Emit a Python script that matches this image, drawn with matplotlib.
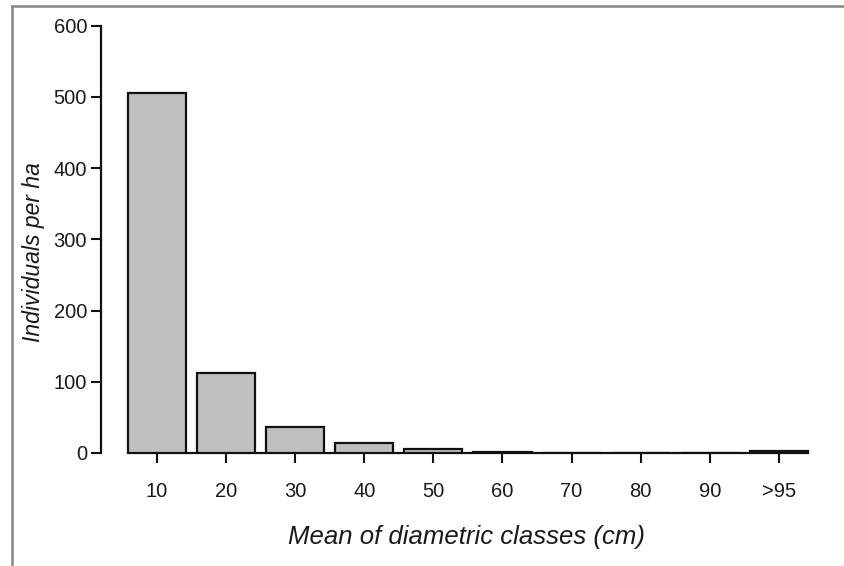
import matplotlib
matplotlib.use("Agg")
import matplotlib.pyplot as plt
from matplotlib.lines import Line2D

# Diametric class distribution (individuals per hectare)
classes = ["10", "20", "30", "40", "50", "60", "70", "80", "90", ">95"]
individuals = [505, 112, 36, 14, 5, 2, 0, 0, 0, 2.5]
y_ticks = [0, 100, 200, 300, 400, 500, 600]

plt.rcParams["font.family"] = ["Liberation Sans", "DejaVu Sans"]

fig = plt.figure(figsize=(8.44, 5.66), dpi=100)
W, H = 844, 566

left_px, right_px = 101, 810
top_px, bottom_px = 25.7, 453
ax = fig.add_axes([left_px / W, (H - bottom_px) / H,
                   (right_px - left_px) / W, (bottom_px - top_px) / H])

x = list(range(len(classes)))
bar_w = 0.84
ax.bar(x, individuals, width=bar_w, color="#c0c0c0", edgecolor="#111111",
       linewidth=1.6, zorder=3)

ax.set_xlim(-0.81, 9.45)
ax.set_ylim(0, 600)
ax.set_yticks(y_ticks)
ax.set_xticks(x)
ax.set_xticklabels(classes)

for s in ("top", "right"):
    ax.spines[s].set_visible(False)
ax.spines["left"].set_bounds(0, 600)
ax.spines["bottom"].set_bounds(-bar_w / 2, len(classes) - 1 + bar_w / 2)
for s in ("left", "bottom"):
    ax.spines[s].set_linewidth(1.6)
    ax.spines[s].set_color("#111111")

ax.tick_params(axis="both", direction="out", length=7, width=1.5,
               color="#111111", labelsize=14.5, labelcolor="#1a1a1a")
ax.tick_params(axis="y", pad=3)
ax.tick_params(axis="x", pad=14)

ax.set_ylabel("Individuals per ha", fontsize=16.5, style="italic",
              color="#1a1a1a", labelpad=6)
ax.yaxis.label.set_y(0.47)
ax.set_xlabel("Mean of diametric classes (cm)", fontsize=18.5, style="italic",
              color="#1a1a1a", labelpad=17)
ax.xaxis.label.set_x(0.515)

# Frame around the figure (left and top edges)
fig.add_artist(Line2D([12 / W, 12 / W], [0, (H - 6) / H], color="#888888",
                      linewidth=1.8, transform=fig.transFigure))
fig.add_artist(Line2D([12 / W, 1], [(H - 6) / H, (H - 6) / H], color="#888888",
                      linewidth=1.8, transform=fig.transFigure))

fig.savefig("out.png", dpi=100)
